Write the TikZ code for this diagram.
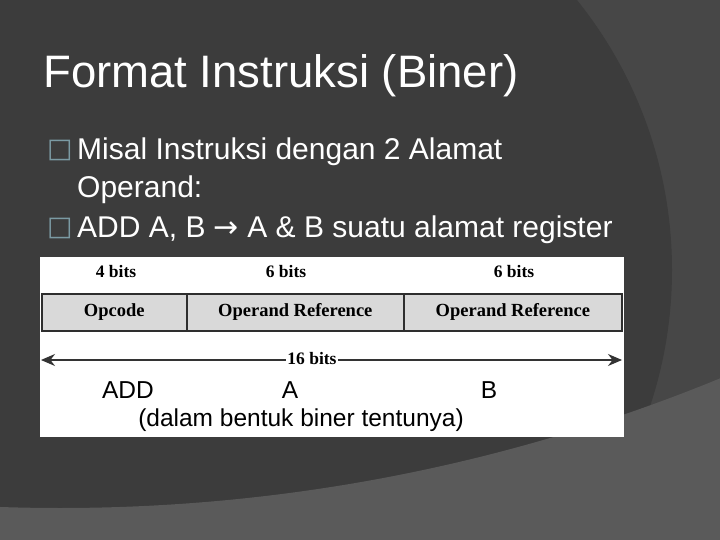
\documentclass[tikz,border=0pt]{standalone}
\usepackage{fontspec}
\setmainfont{Liberation Sans}
\newfontfamily\serifbold{Liberation Serif}
\newfontfamily\symfont{DejaVu Sans}
\usetikzlibrary{arrows.meta}
\definecolor{bgdark}{HTML}{3C3C3C}
\definecolor{bgring}{HTML}{474747}
\definecolor{bglow}{HTML}{5A5A5A}
\definecolor{bulletc}{HTML}{7B9AA3}
\definecolor{cellfill}{HTML}{D9D9D9}
\definecolor{celledge}{HTML}{2E2E2E}
\tikzset{
  titletext/.style={text=white,anchor=base west,inner sep=0pt,font=\fontsize{45.5}{50}\selectfont},
  bodytext/.style={text=white,anchor=base west,inner sep=0pt,font=\fontsize{30}{34}\selectfont},
  bulletbox/.style={text=bulletc,anchor=base west,inner sep=0pt,font=\symfont\fontsize{27}{30}\selectfont},
  bitslabel/.style={text=black,anchor=center,inner sep=0pt,font=\serifbold\bfseries\fontsize{17.5}{19}\selectfont},
  cell/.style={draw=celledge,line width=1.6pt,fill=cellfill,minimum height=37pt,inner sep=0pt,anchor=north west,font=\serifbold\bfseries\fontsize{18.5}{20}\selectfont},
  plaintext/.style={text=black,anchor=center,inner sep=0pt,font=\fontsize{24.5}{28}\selectfont},
  dimarrow/.style={draw=black!80,line width=1.3pt,{Stealth[length=14pt,width=12pt]}-{Stealth[length=14pt,width=12pt]}}
}
\begin{document}
\begin{tikzpicture}[x=1pt,y=-1pt]
\useasboundingbox (0,0) rectangle (720,540);
% background
\fill[bgring] (0,0) rectangle (720,540);
\begin{scope}
  \clip (0,0) rectangle (720,540);
  \fill[bgdark] (241,270) circle[radius=431];
  \fill[bglow,even odd rule] (-10,-10) rectangle (730,550) (60,-1231) circle[radius=1739];
\end{scope}
% title and bullets
\node[titletext] (title) at (43,88) {Format Instruksi (Biner)};
\node[bulletbox] (b1) at (47,158) {□};
\node[bodytext] (l1) at (77,160) {Misal Instruksi dengan 2 Alamat};
\node[bodytext] (l1b) at (77,197) {Operand:};
\node[bulletbox] (b2) at (47,236) {□};
\node[bodytext] (l2) at (77,237) {ADD A, B {\symfont\fontsize{30}{34}\selectfont →} A \& B suatu alamat register};
% white figure
\fill[white] (40,257) rectangle (624,437);
\node[bitslabel] (w1) at (116,272) {4 bits};
\node[bitslabel] (w2) at (286,272) {6 bits};
\node[bitslabel] (w3) at (514,272) {6 bits};
\node[cell,minimum width=145pt] (op) at (41,293) {Opcode};
\node[cell,minimum width=217pt] (r1) at (186,293) {Operand Reference};
\node[cell,minimum width=218pt] (r2) at (403,293) {Operand Reference};
\coordinate (al) at (41,360);
\coordinate (ar) at (622,360);
\draw[dimarrow] (al) -- (ar);
\node[bitslabel,fill=white,inner xsep=1pt,inner ysep=2pt] (tot) at (312,359) {16 bits};
\node[plaintext] (tadd) at (128,390) {ADD};
\node[plaintext] (ta) at (290,390) {A};
\node[plaintext] (tb) at (489,390) {B};
\node[plaintext] (note) at (301,420) {(dalam bentuk biner tentunya)};
\end{tikzpicture}
\end{document}
